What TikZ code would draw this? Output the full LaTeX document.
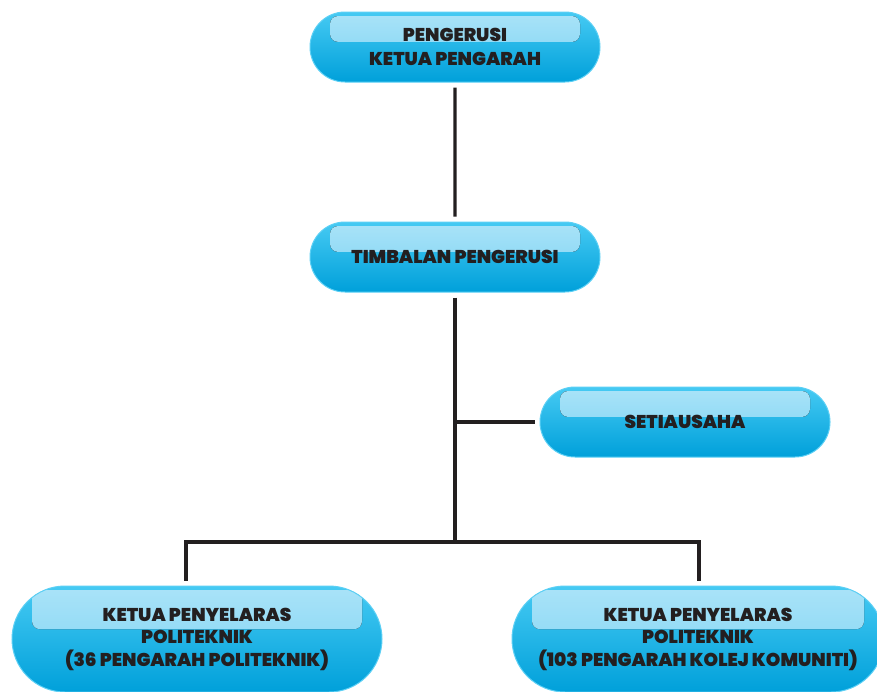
\documentclass[tikz,border=0pt]{standalone}
\usepackage{fontspec}
\setmainfont{Poppins}[BoldFont={Poppins Black}]
\usetikzlibrary{shapes.misc}
\definecolor{boxtop}{RGB}{70,202,243}
\definecolor{boxmid}{RGB}{0,181,236}
\definecolor{boxbot}{RGB}{0,160,218}
\definecolor{boxrim}{RGB}{92,208,245}
\definecolor{glowtop}{RGB}{170,227,248}
\definecolor{glowbot}{RGB}{120,210,243}
\definecolor{inkline}{RGB}{35,31,32}

\begin{document}
\begin{tikzpicture}[x=1pt, y=-1pt]
\tikzstyle{boxr}=[rounded rectangle, draw=boxrim, line width=1pt, top color=boxtop, middle color=boxmid, bottom color=boxbot, inner sep=0pt, align=center, text=inkline, font=\bfseries\fontsize{18.5}{22.5}\selectfont,
  path picture={\fill[top color=glowtop, bottom color=glowbot, rounded corners=8pt]
    ([xshift=20pt, yshift=-4pt]path picture bounding box.north west) rectangle
    ([xshift=-20pt, yshift={-4pt-0.37*(\pgfkeysvalueof{/pgf/minimum height})}]path picture bounding box.north east);}]
\tikzstyle{drawstyle}=[line width=3.3pt, draw=inkline, shorten <=5pt, shorten >=5pt]

\useasboundingbox (0,0) rectangle (877,691);
\clip (0,0) rectangle (877,691);

\node[boxr, minimum width=290pt, minimum height=70pt] (Pgr) at (455,47) {PENGERUSI\\[1.5pt]KETUA PENGARAH};
\node[boxr, minimum width=290pt, minimum height=70pt] (Tmb) at (455,257) {TIMBALAN PENGERUSI};
\node[boxr, minimum width=290pt, minimum height=70pt] (Sts) at (685,422) {SETIAUSAHA};
\node[boxr, minimum width=370pt, minimum height=106pt] (Pol) at (197,639) {KETUA PENYELARAS\\POLITEKNIK\\(36 PENGARAH POLITEKNIK)};
\node[boxr, minimum width=372pt, minimum height=106pt] (Kk) at (698,639) {KETUA PENYELARAS\\POLITEKNIK\\(103 PENGARAH KOLEJ KOMUNITI)};

\coordinate (Tap) at (455,422);
\coordinate (Bus) at (455,542);
\coordinate (BusL) at (186,542);
\coordinate (BusR) at (699,542);

\draw[drawstyle] (Pgr) -- (Tmb);
\draw[drawstyle, shorten >=0pt] (Tmb) -- (Bus);
\draw[drawstyle, shorten <=0pt] (Tap) -- (Sts);
\draw[line width=3.3pt, draw=inkline, line cap=rect] (BusL) -- (BusR);
\draw[drawstyle, shorten <=0pt] (BusL) -- (BusL |- Pol.north);
\draw[drawstyle, shorten <=0pt] (BusR) -- (BusR |- Kk.north);
\end{tikzpicture}
\end{document}
